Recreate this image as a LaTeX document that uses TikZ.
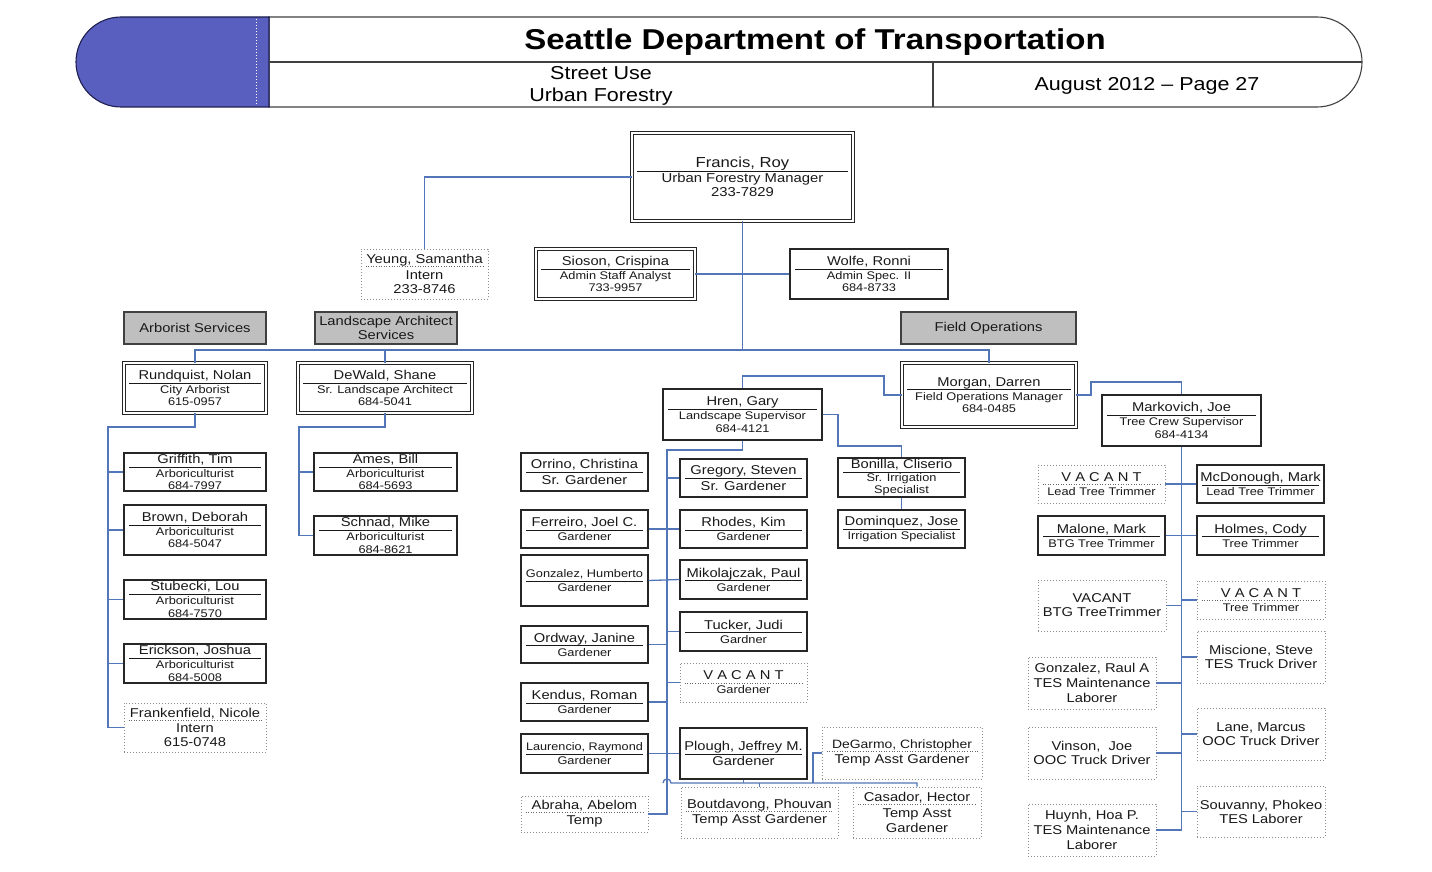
\documentclass[tikz,border=0pt]{standalone}
\usepackage{fontspec}
\setmainfont{Liberation Sans}[FakeStretch=1.15]
\usetikzlibrary{calc}
\definecolor{lnk}{RGB}{82,118,184}
\definecolor{hdrblue}{RGB}{89,95,190}
\definecolor{navy}{RGB}{30,30,80}
\definecolor{secgray}{RGB}{191,191,191}
\newcommand\fs[1]{\fontsize{#1}{#1}\selectfont}
\newcommand\fN{\fontsize{12.8}{12.8}\selectfont}
\newcommand\subS{\fontsize{11.1}{12.7}\selectfont\lineskiplimit=-100pt\lineskip=0pt}
\newcommand\subB{\fontsize{12.8}{14}\selectfont\lineskiplimit=-100pt\lineskip=0pt}
\newcommand\subBB{\fontsize{12.8}{14.8}\selectfont\lineskiplimit=-100pt\lineskip=0pt}
\newcommand\subF{\fontsize{12.9}{14}\selectfont\lineskiplimit=-100pt\lineskip=0pt}
\newcommand\subI{\fontsize{11.1}{12}\selectfont\lineskiplimit=-100pt\lineskip=0pt}
\newcommand\nm[2]{\hbox to #1{\rlap{\vrule width #1 height -3.3pt depth 4.1pt}\hss\fN #2\hss}}
\newcommand\nmp[2]{\hbox to #1{\hss\fN #2\hss}}
\newcommand\card[8]{\pgfmathsetmacro\cw{#5-#3}\pgfmathsetmacro\ch{#6-#4}%
 \node[#2,minimum width=\cw pt,minimum height=\ch pt] (#1) at ({(#3+#5)/2},{(#4+#6)/2}) {\nm{\dimexpr\cw pt-10pt\relax}{#7}\\[1.3pt]#8};}
\newcommand\dcard[9]{\pgfmathsetmacro\cw{#5-#3}\pgfmathsetmacro\ch{#6-#4}%
 \node[#2,minimum width=\cw pt,minimum height=\ch pt] (#1) at ({(#3+#5)/2},{(#4+#6)/2}) {\nmp{\dimexpr\cw pt-10pt\relax}{#7}\\[1.3pt]#8};
 \path[dotrule] ($(#1.north west)+(5,#9)$) -- ($(#1.north east)+(-5,#9)$);}
\newcommand\pcard[7]{\pgfmathsetmacro\cw{#5-#3}\pgfmathsetmacro\ch{#6-#4}%
 \node[#2,minimum width=\cw pt,minimum height=\ch pt] (#1) at ({(#3+#5)/2},{(#4+#6)/2}) {#7};}
\tikzset{
 cardbase/.style={rectangle, align=center, inner sep=1pt, text=black!90},
 solidbox/.style={cardbase, draw=black!85, line width=1.1pt, fill=white},
 dblbox/.style={cardbase, draw=black!85, double=white, double distance=1.6pt, line width=0.8pt, fill=white},
 dotbox/.style={cardbase, draw=black!45, line width=0.9pt, dash pattern=on 0.9pt off 2.1pt, fill=white},
 dotrule/.style={draw=black!60, line width=0.9pt, dash pattern=on 0.9pt off 1.7pt},
 smtxt/.style={font=\subS},
 bgtxt/.style={font=\subB},
 sechdr/.style={cardbase, draw=black!75, line width=1.1pt, fill=secgray, font=\subB},
 conn/.style={draw=lnk, line width=1.3pt},
 hdrline/.style={draw=black!75, line width=1.1pt},
}
\begin{document}
\begin{tikzpicture}[x=1pt,y=-1pt]
\useasboundingbox (0,0) rectangle (1432,872);
\fill[white] (0,0) rectangle (1432,872);
% header
\draw[hdrline, fill=white] (269,17) -- (1317,17) arc[start angle=-90,end angle=90,radius=45] -- (269,107) -- cycle;
\draw[draw=navy, line width=1.1pt, fill=hdrblue] (269,17) -- (121,17) arc[start angle=270,end angle=90,radius=45] -- (269,107) -- cycle;
\draw[white, line width=1pt, dash pattern=on 1pt off 2pt] (256,19) -- (256,105);
\draw[hdrline] (269,62) -- (1362,62);
\draw[hdrline] (933,62) -- (933,107);
\node[anchor=base, inner sep=0pt, font=\bfseries\fontsize{28.7}{28.7}\selectfont] (title) at (815,50) {Seattle Department of Transportation};
\node[anchor=base, inner sep=0pt, font=\fontsize{18.7}{18.7}\selectfont] (su1) at (601,80) {Street Use};
\node[anchor=base, inner sep=0pt, font=\fontsize{18.7}{18.7}\selectfont] (su2) at (601,102) {Urban Forestry};
\node[anchor=base, inner sep=0pt, font=\fontsize{18.7}{18.7}\selectfont] (date) at (1147,91) {August 2012 – Page 27};
% top level
\card{francis}{dblbox,font=\subF}{632}{133}{853}{221}{\fs{14.5}Francis, Roy}{Urban Forestry Manager\\233-7829}
\dcard{yeung}{dotbox,font=\subB}{361}{249}{488}{299}{Yeung, Samantha}{Intern\\233-8746}{18}
\card{sioson}{dblbox,smtxt}{536}{249}{695}{299}{Sioson, Crispina}{Admin Staff Analyst\\733-9957}
\card{wolfe}{solidbox,smtxt}{790}{249}{948}{299}{Wolfe, Ronni}{Admin Spec. II\\684-8733}
\pcard{arb}{sechdr}{124}{312}{266}{344}{Arborist Services}
\pcard{land}{sechdr}{315}{312}{457}{344}{Landscape Architect\\Services}
\pcard{fops}{sechdr}{901}{312}{1076}{344}{Field Operations}
\card{rund}{dblbox,smtxt}{124}{363}{266}{413}{Rundquist, Nolan}{City Arborist\\615-0957}
\card{dewald}{dblbox,smtxt}{298}{363}{472}{413}{DeWald, Shane}{Sr. Landscape Architect\\684-5041}
\card{morgan}{dblbox,smtxt}{902}{363}{1076}{427}{Morgan, Darren}{Field Operations Manager\\684-0485}
% arborists
\card{griffith}{solidbox,smtxt}{124}{453}{266}{491}{Griffith, Tim}{Arboriculturist\\684-7997}
\card{brown}{solidbox,smtxt}{124}{505}{266}{555}{Brown, Deborah}{Arboriculturist\\684-5047}
\card{stubecki}{solidbox,smtxt}{124}{580}{266}{619}{Stubecki, Lou}{Arboriculturist\\684-7570}
\card{erickson}{solidbox,smtxt}{124}{644}{266}{683}{Erickson, Joshua}{Arboriculturist\\684-5008}
\dcard{frank}{dotbox,font=\subB}{124}{703}{266}{752}{Frankenfield, Nicole}{Intern\\615-0748}{18}
\card{ames}{solidbox,smtxt}{314}{453}{457}{491}{Ames, Bill}{Arboriculturist\\684-5693}
\card{schnad}{solidbox,smtxt}{314}{516}{457}{555}{Schnad, Mike}{Arboriculturist\\684-8621}
% landscape
\card{hren}{solidbox,smtxt}{663}{389}{822}{440}{Hren, Gary}{Landscape Supervisor\\684-4121}
\card{bonilla}{solidbox,font=\subI}{838}{458}{965}{497}{Bonilla, Cliserio}{Sr. Irrigation\\Specialist}
\card{domin}{solidbox,smtxt}{838}{510}{965}{548}{Dominquez, Jose}{Irrigation Specialist}
\card{orrino}{solidbox,bgtxt}{521}{453}{648}{491}{Orrino, Christina}{Sr. Gardener}
\card{ferreiro}{solidbox,smtxt}{521}{510}{648}{548}{Ferreiro, Joel C.}{Gardener}
\card{gonzh}{solidbox,smtxt}{521}{555}{648}{606}{\fs{11.1}Gonzalez, Humberto}{Gardener}
\card{ordway}{solidbox,smtxt}{521}{626}{648}{663}{Ordway, Janine}{Gardener}
\card{kendus}{solidbox,smtxt}{521}{683}{648}{721}{Kendus, Roman}{Gardener}
\card{laur}{solidbox,smtxt}{521}{734}{648}{773}{\fs{11}Laurencio, Raymond}{Gardener}
\dcard{abraha}{dotbox,bgtxt}{521}{796}{648}{832}{Abraha, Abelom}{Temp}{17}
\card{gregory}{solidbox,bgtxt}{680}{459}{807}{497}{Gregory, Steven}{Sr. Gardener}
\card{rhodes}{solidbox,smtxt}{680}{510}{807}{548}{Rhodes, Kim}{Gardener}
\card{mikol}{solidbox,smtxt}{680}{560}{807}{599}{Mikolajczak, Paul}{Gardener}
\card{tucker}{solidbox,smtxt}{680}{612}{807}{651}{Tucker, Judi}{Gardner}
\dcard{vacg}{dotbox,smtxt}{680}{663}{807}{702}{V A C A N T}{Gardener}{20.5}
\card{plough}{solidbox,bgtxt}{680}{728}{807}{779}{Plough, Jeffrey M.}{Gardener}
\dcard{boutd}{dotbox,bgtxt}{681}{787}{838}{838}{Boutdavong, Phouvan}{Temp Asst Gardener}{25}
\dcard{degarmo}{dotbox,bgtxt}{822}{727}{982}{779}{\fs{12.1}DeGarmo, Christopher}{Temp Asst Gardener}{25}
\dcard{casador}{dotbox,font=\subBB}{853}{787}{981}{838}{Casador, Hector}{Temp Asst\\Gardener}{18}
% field operations
\card{mark}{solidbox,smtxt}{1102}{395}{1261}{446}{Markovich, Joe}{Tree Crew Supervisor\\684-4134}
\dcard{vacl}{dotbox,smtxt}{1038}{465}{1165}{503}{V A C A N T}{Lead Tree Trimmer}{20}
\card{mcd}{solidbox,smtxt}{1197}{465}{1324}{503}{McDonough, Mark}{Lead Tree Trimmer}
\card{malone}{solidbox,smtxt}{1038}{516}{1165}{555}{Malone, Mark}{BTG Tree Trimmer}
\card{holmes}{solidbox,smtxt}{1197}{516}{1324}{555}{Holmes, Cody}{Tree Trimmer}
\pcard{vacb}{dotbox,bgtxt}{1038}{580}{1166}{631}{VACANT\\BTG TreeTrimmer}
\dcard{vact}{dotbox,smtxt}{1197}{581}{1325}{619}{V A C A N T}{Tree Trimmer}{20}
\pcard{misc}{dotbox,bgtxt}{1197}{631}{1325}{683}{Miscione, Steve\\TES Truck Driver}
\pcard{gonzr}{dotbox,font=\subBB}{1028}{657}{1156}{709}{Gonzalez, Raul A\\TES Maintenance\\Laborer}
\pcard{lane}{dotbox,bgtxt}{1197}{708}{1325}{760}{Lane, Marcus\\OOC Truck Driver}
\pcard{vinson}{dotbox,font=\subBB}{1028}{727}{1156}{779}{Vinson,\ \ Joe\\OOC Truck Driver}
\pcard{souv}{dotbox,bgtxt}{1197}{786}{1325}{837}{Souvanny, Phokeo\\TES Laborer}
\pcard{huynh}{dotbox,font=\subBB}{1028}{804}{1156}{856}{Huynh, Hoa P.\\TES Maintenance\\Laborer}
% connectors
\coordinate (bus) at (0,350);
\draw[conn] (francis.west) -| (yeung.north);
\draw[conn] (sioson.east) -- (wolfe.west);
\draw[conn] (francis.south) -- (francis.south |- bus);
\draw[conn] (rund.north) |- (bus -| morgan.north) -- (morgan.north);
\draw[conn] (dewald.north) -- (dewald.north |- bus);
\coordinate (rsp) at (108,427);
\draw[conn] (rund.south) |- (rsp) |- (frank.west);
\foreach \n in {griffith,brown,stubecki,erickson} \draw[conn] (rsp |- \n.west) -- (\n.west);
\coordinate (dsp) at (299,427);
\draw[conn] (dewald.south) |- (dsp) |- (schnad.west);
\draw[conn] (dsp |- ames.west) -- (ames.west);
\coordinate (mh) at (884,376);
\draw[conn] (morgan.west) -| (mh) -| (hren.north);
\coordinate (mm) at (1091,382);
\draw[conn] (morgan.east) -| (mm) -| (mark.north);
\coordinate (hb) at (838,446);
\draw[conn] (hren.east) -| (hb) -| (bonilla.north);
\draw[conn] (bonilla.south) -- (domin.north);
\coordinate (gsp) at (667,450);
\draw[conn] (hren.south) |- (gsp) |- (abraha.east);
\draw[conn] (gsp |- gregory.west) -- (gregory.west);
\draw[conn] (ferreiro.east) -- (rhodes.west);
\draw[conn] (gonzh.east) -- (mikol.west);
\draw[conn] (ordway.east) -- (ordway.east -| gsp);
\draw[conn] (gsp |- tucker.west) -- (tucker.west);
\draw[conn] (gsp |- vacg.west) -- (vacg.west);
\draw[conn] (kendus.east) -- (kendus.east -| gsp);
\draw[conn] (laur.east) -- (plough.west);
\coordinate (hopL) at (663,783);
\draw[conn] (hopL) arc[start angle=180,end angle=360,radius=4] -- (hopL -| casador.north) -- (casador.north);
\draw[conn] (plough.south) -- (plough.south |- hopL);
\draw[conn] (boutd.north |- hopL) -- (boutd.north);
\coordinate (dgx) at (813,783);
\draw[conn] (dgx) |- (degarmo.west);
\draw[conn, line width=1.8pt] (mark.south) |- (huynh.east);
\draw[conn] (vacl.east) -- (mcd.west);
\draw[conn] (malone.east) -- (holmes.west);
\draw[conn] (vacb.east) -- (vacb.east -| mark.south);
\draw[conn] (mark.south |- vact.west) -- (vact.west);
\draw[conn] (mark.south |- misc.west) -- (misc.west);
\draw[conn] (gonzr.east) -- (gonzr.east -| mark.south);
\draw[conn] (mark.south |- lane.west) -- (lane.west);
\draw[conn] (vinson.east) -- (vinson.east -| mark.south);
\draw[conn] (mark.south |- souv.west) -- (souv.west);
\end{tikzpicture}
\end{document}
